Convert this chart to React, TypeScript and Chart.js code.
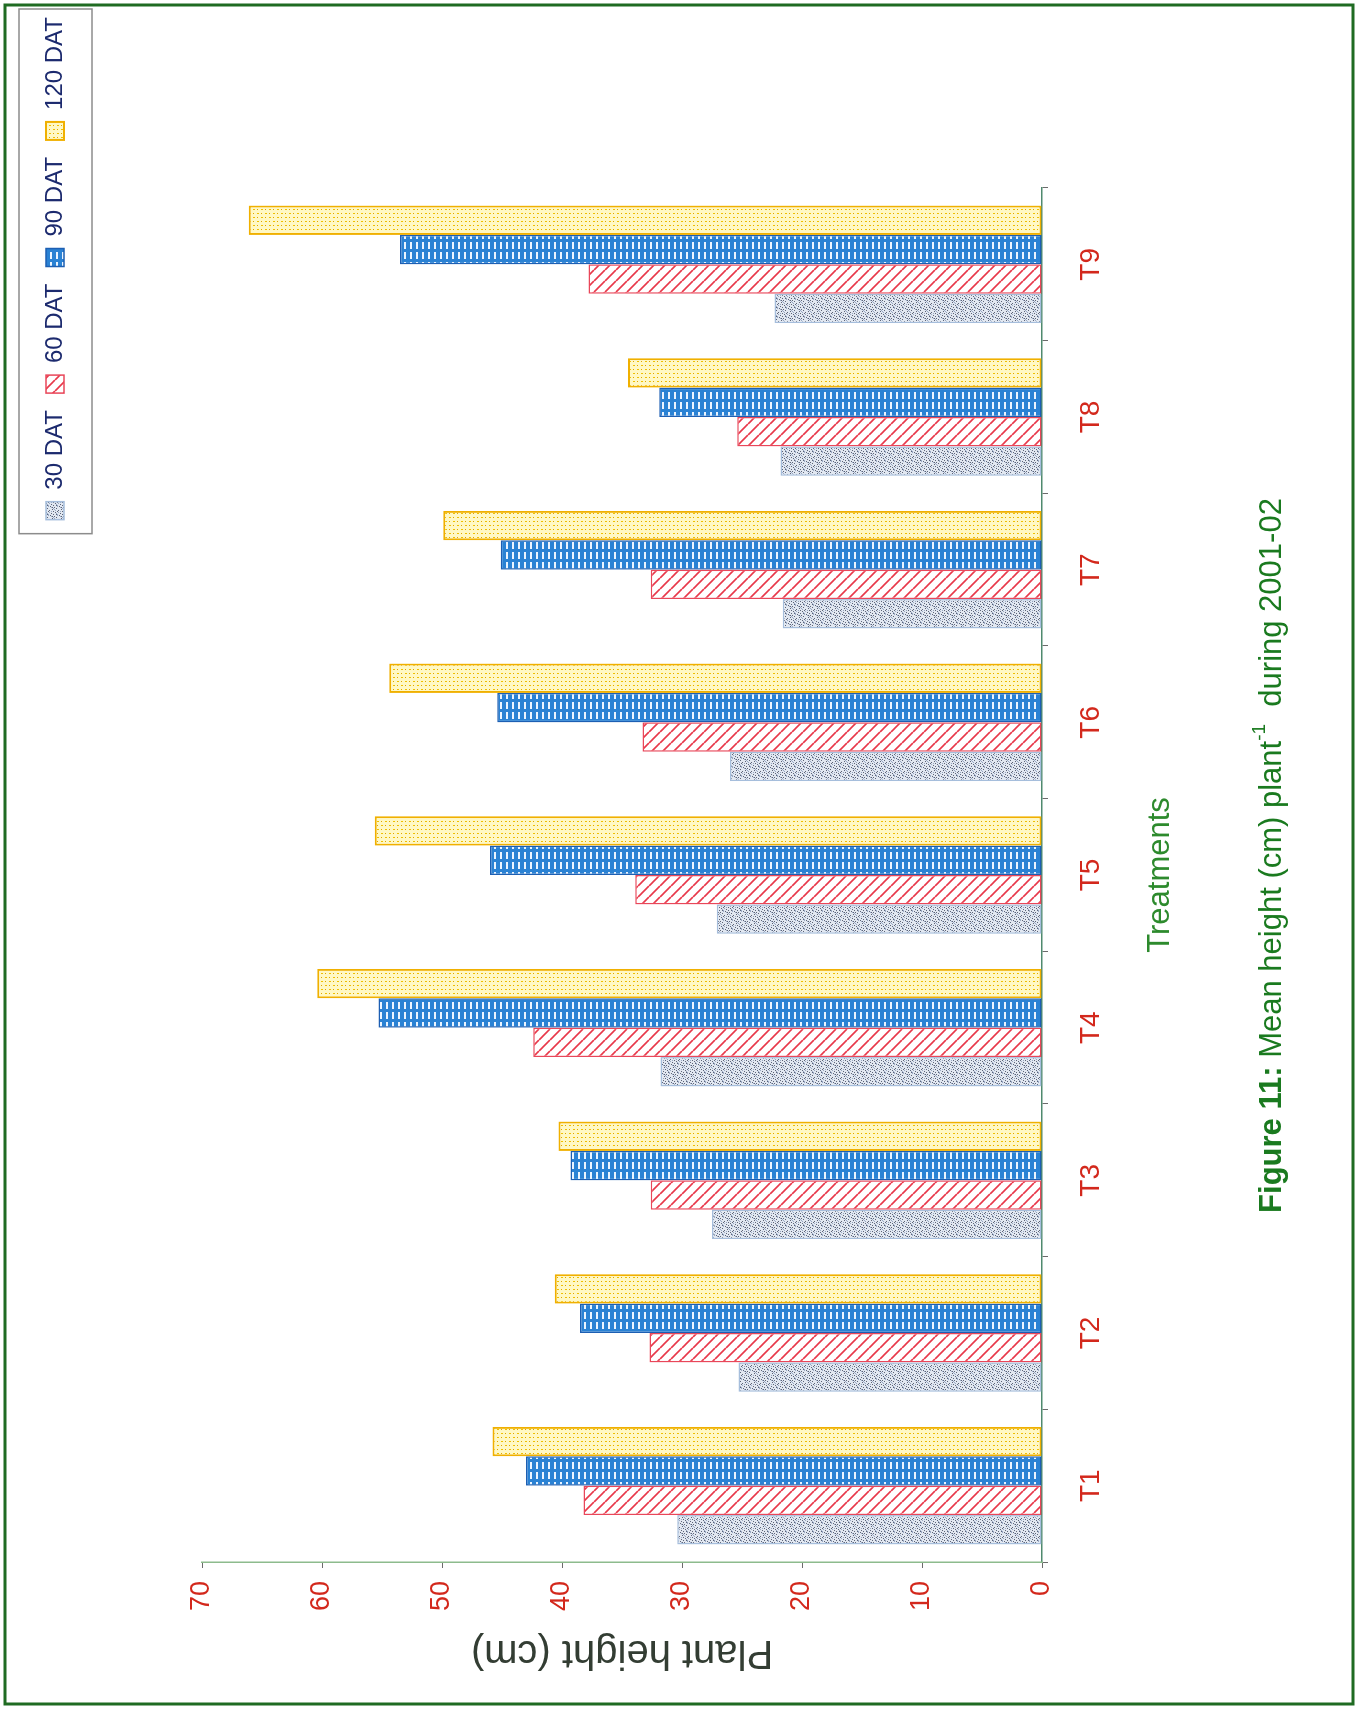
import { useEffect, useRef } from "react";
import { Chart, registerables } from "chart.js";

Chart.register(...registerables);

const treatments = ["T1", "T2", "T3", "T4", "T5", "T6", "T7", "T8", "T9"];
const seriesNames = ["30 DAT", "60 DAT", "90 DAT", "120 DAT"];
const dat30 = [30.4, 25.3, 27.5, 31.8, 27.1, 26.0, 21.6, 21.8, 22.3];
const dat60 = [38.2, 32.7, 32.6, 42.4, 33.9, 33.3, 32.6, 25.4, 37.8];
const dat90 = [43.0, 38.5, 39.3, 55.3, 46.0, 45.4, 45.1, 31.9, 53.5];
const dat120 = [45.8, 40.6, 40.3, 60.4, 55.6, 54.4, 49.9, 34.5, 66.1];
const valueMin = 0;
const valueMax = 70;
const valueStep = 10;
const xTitle = "Treatments";
const yTitle = "Plant height (cm)";
const captionBold = "Figure 11:";
const captionMain = " Mean height (cm) plant";
const captionSup = "-1";
const captionEnd = "  during 2001-02";

const W = 1711;
const H = 1356;
const FONT = "'Liberation Sans', Arial, sans-serif";

function makePattern(w: number, h: number, draw: (g: CanvasRenderingContext2D) => void) {
  const c = document.createElement("canvas");
  c.width = w;
  c.height = h;
  const g = c.getContext("2d")!;
  draw(g);
  return g.createPattern(c, "repeat")!;
}

export default function App() {
  const ref = useRef<HTMLCanvasElement | null>(null);

  useEffect(() => {
    if (!ref.current) return;

    const stipple = makePattern(9, 9, (g) => {
      g.fillStyle = "#e2e8f1";
      g.fillRect(0, 0, 9, 9);
      g.fillStyle = "#5d6478";
      [[1, 1], [5, 2], [3, 4], [7, 5], [0, 6], [4, 7], [8, 8], [2, 8], [6, 0], [8, 2], [2, 3], [6, 7]].forEach(([x, y]) => g.fillRect(x, y, 1, 1));
      g.fillStyle = "#98a8c4";
      [[3, 1], [8, 3], [1, 4], [6, 6], [2, 6], [5, 8], [4, 0], [0, 2], [7, 3]].forEach(([x, y]) => g.fillRect(x, y, 1, 1));
    });
    const hatch = makePattern(11, 11, (g) => {
      g.fillStyle = "#ffffff";
      g.fillRect(0, 0, 11, 11);
      g.strokeStyle = "#e8384a";
      g.lineWidth = 1.6;
      [-11, 0, 11].forEach((k) => {
        g.beginPath();
        g.moveTo(k, 0);
        g.lineTo(k + 11, 11);
        g.stroke();
      });
    });
    const brick = makePattern(10, 6, (g) => {
      g.fillStyle = "#2a82d4";
      g.fillRect(0, 0, 10, 6);
      g.fillStyle = "#eaf4ff";
      g.fillRect(2, 2, 7, 2);
    });
    const dots = makePattern(8, 8, (g) => {
      g.fillStyle = "#fff8c4";
      g.fillRect(0, 0, 8, 8);
      g.fillStyle = "#f0c000";
      g.fillRect(1, 1, 1, 2);
      g.fillRect(5, 5, 1, 2);
      g.fillStyle = "#e0a400";
      g.fillRect(5, 1, 1, 1);
      g.fillRect(1, 5, 1, 1);
    });

    const framePlugin = {
      id: "frame",
      beforeDraw(chart: any) {
        const c = chart.ctx;
        c.save();
        c.fillStyle = "#ffffff";
        c.fillRect(0, 0, chart.width, chart.height);
        c.strokeStyle = "#1f6b22";
        c.lineWidth = 3;
        c.strokeRect(7, 5, chart.width - 12, chart.height - 8);
        c.restore();
      },
      afterDraw(chart: any) {
        const c = chart.ctx;
        const hb = chart.legend?.legendHitBoxes || [];
        if (hb.length) {
          const left = Math.min(...hb.map((b: any) => b.left));
          const right = Math.max(...hb.map((b: any) => b.left + b.width));
          const top = Math.min(...hb.map((b: any) => b.top));
          const bottom = Math.max(...hb.map((b: any) => b.top + b.height));
          c.save();
          c.strokeStyle = "#8c8c8c";
          c.lineWidth = 1.5;
          c.strokeRect(left - 14, top - 24, right - left + 22, bottom - top + 49);
          c.restore();
        }
        c.save();
        const size = 31;
        const cx = chart.width / 2;
        const cy = 1272;
        c.textBaseline = "middle";
        c.fillStyle = "#1a7a1f";
        const fb = `bold ${size}px ${FONT}`;
        const fn = `${size}px ${FONT}`;
        const fs = `${Math.round(size * 0.6)}px ${FONT}`;
        c.font = fb;
        const w1 = c.measureText(captionBold).width;
        c.font = fn;
        const w2 = c.measureText(captionMain).width;
        c.font = fs;
        const w3 = c.measureText(captionSup).width;
        c.font = fn;
        const w4 = c.measureText(captionEnd).width;
        let x = cx - (w1 + w2 + w3 + w4) / 2;
        c.textAlign = "left";
        c.font = fb;
        c.fillText(captionBold, x, cy);
        x += w1;
        c.font = fn;
        c.fillText(captionMain, x, cy);
        x += w2;
        c.font = fs;
        c.fillText(captionSup, x, cy - size * 0.38);
        x += w3;
        c.font = fn;
        c.fillText(captionEnd, x, cy);
        c.restore();
      },
    };

    const chart = new Chart(ref.current, {
      type: "bar",
      data: {
        labels: treatments,
        datasets: [
          { label: seriesNames[0], data: dat30, backgroundColor: stipple as any, borderColor: "#a6bedc", borderWidth: 1.5, borderSkipped: false },
          { label: seriesNames[1], data: dat60, backgroundColor: hatch as any, borderColor: "#e9475a", borderWidth: 1.5, borderSkipped: false },
          { label: seriesNames[2], data: dat90, backgroundColor: brick as any, borderColor: "#1d5fb3", borderWidth: 1.5, borderSkipped: false },
          { label: seriesNames[3], data: dat120, backgroundColor: dots as any, borderColor: "#f0b000", borderWidth: 2, borderSkipped: false },
        ],
      },
      options: {
        animation: false,
        responsive: false,
        devicePixelRatio: 1,
        events: [],
        layout: { padding: { top: 26, left: 0, right: 0, bottom: 0 } },
        datasets: { bar: { categoryPercentage: 0.77, barPercentage: 1.0 } },
        plugins: {
          tooltip: { enabled: false },
          legend: {
            display: true,
            position: "top",
            align: "end",
            labels: {
              boxWidth: 18,
              boxHeight: 18,
              padding: 17,
              color: "#1c2a6e",
              font: { family: FONT, size: 24 },
            },
          },
          title: {
            display: true,
            text: "",
            position: "top",
            weight: 100,
            font: { size: 1 },
            padding: { top: 0, bottom: 123.8 },
          } as any,
        },
        scales: {
          x: {
            grid: { display: true, drawOnChartArea: false, drawTicks: true, tickLength: 6, color: "#6b6b6b", offset: true },
            border: { display: true, color: "#4f8a6e", width: 1.5 },
            ticks: { color: "#d3281c", font: { family: FONT, size: 28 }, padding: 26 },
            title: {
              display: true,
              text: xTitle,
              color: "#2d8a2d",
              font: { family: FONT, size: 31 },
              padding: { top: 0, bottom: 177.4 },
            },
            afterFit: (s: any) => {
              s.height = 314;
            },
          },
          y: {
            min: valueMin,
            max: valueMax,
            grid: { display: true, drawOnChartArea: false, drawTicks: true, tickLength: 6, color: "#6b6b6b" },
            border: { display: true, color: "#8dbb8d", width: 1.5 },
            ticks: { stepSize: valueStep, color: "#d3281c", font: { family: FONT, size: 27 }, padding: 13 },
            title: {
              display: true,
              text: yTitle,
              color: "#333d33",
              font: { family: FONT, size: 40 },
              padding: { top: 35, bottom: 0 },
            },
            afterFit: (s: any) => {
              s.width = 149;
            },
          },
          spacer: {
            type: "linear",
            position: "right",
            display: true,
            grid: { display: false },
            border: { display: false },
            ticks: { display: false },
            afterFit: (s: any) => {
              s.width = W - 1523;
            },
          } as any,
        },
      },
      plugins: [framePlugin],
    });

    return () => chart.destroy();
  }, []);

  return (
    <div style={{ position: "absolute", left: 0, top: 0, width: 1356, height: 1711, overflow: "hidden", background: "#fff" }}>
      <div
        style={{
          position: "absolute",
          left: 0,
          top: 0,
          width: W,
          height: H,
          transformOrigin: "0 0",
          transform: `translateY(${W}px) rotate(-90deg)`,
        }}
      >
        <canvas ref={ref} width={W} height={H} style={{ display: "block", width: W, height: H }} />
      </div>
    </div>
  );
}
